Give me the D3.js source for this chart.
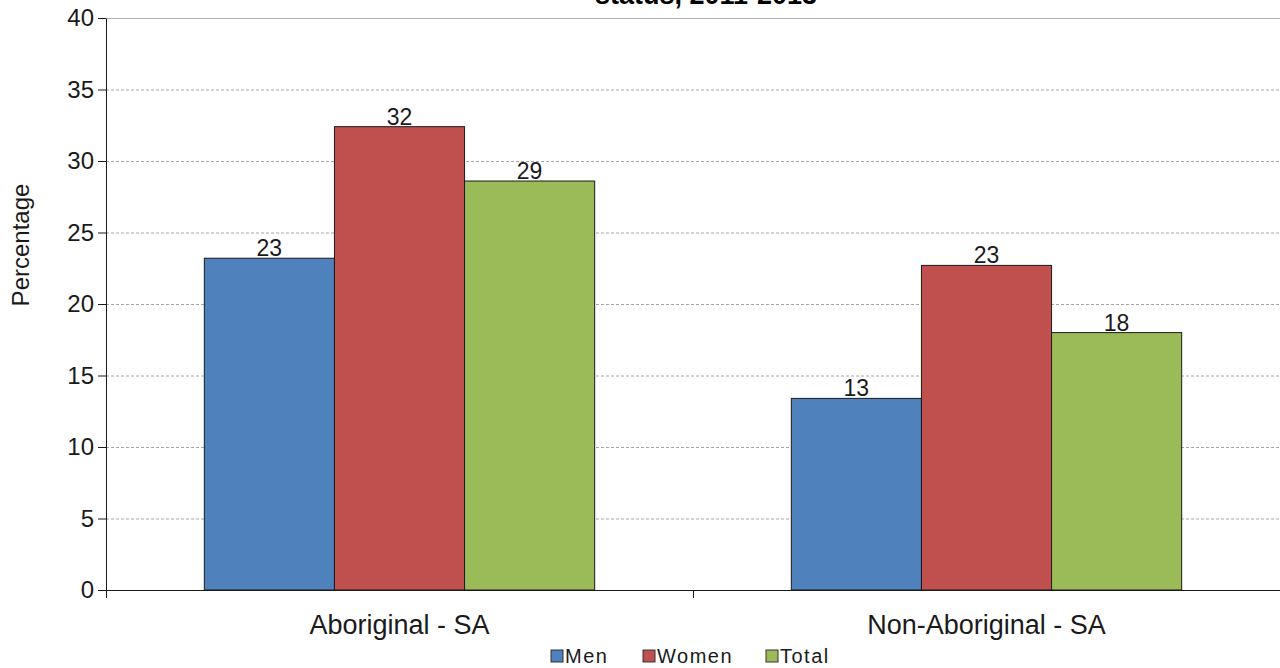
<!DOCTYPE html>
<html>
<head>
<meta charset="utf-8">
<script src="https://cdn.jsdelivr.net/npm/d3@7"></script>
<style>
  html, body { margin: 0; padding: 0; background: #ffffff; }
  svg { display: block; font-family: "Liberation Sans", Arial, sans-serif; }
</style>
</head>
<body>
<svg id="chart" width="1280" height="668"></svg>
<script>
// Percentage by group and sex
const categories = ["Aboriginal - SA", "Non-Aboriginal - SA"];
const seriesNames = ["Men", "Women", "Total"];
const menValues = [23.2, 13.4];
const womenValues = [32.4, 22.7];
const totalValues = [28.6, 18.0];
const yTicks = [0, 5, 10, 15, 20, 25, 30, 35, 40];
const titleText = "status, 2011-2013";
const yLabel = "Percentage";

const colors = { Men: "#4f81bd", Women: "#c0504d", Total: "#9bbb59" };
const seriesValues = { Men: menValues, Women: womenValues, Total: totalValues };

const W = 1280, H = 668;
const margin = { top: 18, right: 0, bottom: 78, left: 106 };
const innerW = W - margin.left - margin.right;
const innerH = H - margin.top - margin.bottom;

const svg = d3.select("#chart");
const g = svg.append("g").attr("transform", `translate(${margin.left},${margin.top})`);

const x0 = d3.scaleBand().domain(categories).range([0, innerW]).paddingInner(0.335).paddingOuter(0.1675);
const x1 = d3.scaleBand().domain(seriesNames).range([0, x0.bandwidth()]).padding(0);
const y = d3.scaleLinear().domain([0, 40]).range([innerH, 0]);

// Title (the top of it sits above the drawing area)
svg.append("text")
  .attr("x", 706).attr("y", 4)
  .attr("text-anchor", "middle")
  .attr("font-weight", "bold")
  .attr("font-size", 27)
  .attr("fill", "#000")
  .text(titleText);

// Gridlines
g.selectAll("line.grid")
  .data(yTicks.filter(t => t > 0))
  .join("line")
  .attr("class", "grid")
  .attr("x1", 0).attr("x2", innerW)
  .attr("y1", d => y(d) + 0.5).attr("y2", d => y(d) + 0.5)
  .attr("stroke", d => d === 40 ? "#b0b0b0" : "#a6a6a6")
  .attr("stroke-width", 1)
  .attr("stroke-dasharray", d => d === 40 ? null : "3,2");

// Bars
const groups = g.selectAll("g.cat")
  .data(categories)
  .join("g")
  .attr("class", "cat")
  .attr("transform", d => `translate(${x0(d)},0)`);

groups.selectAll("rect")
  .data((c, i) => seriesNames.map(s => ({ s, v: seriesValues[s][i] })))
  .join("rect")
  .attr("x", d => x1(d.s))
  .attr("y", d => y(d.v))
  .attr("width", x1.bandwidth())
  .attr("height", d => innerH - y(d.v))
  .attr("fill", d => colors[d.s])
  .attr("stroke", "#1a1a1a")
  .attr("stroke-width", 1);

groups.selectAll("text.val")
  .data((c, i) => seriesNames.map(s => ({ s, v: seriesValues[s][i] })))
  .join("text")
  .attr("class", "val")
  .attr("x", d => x1(d.s) + x1.bandwidth() / 2)
  .attr("y", d => y(d.v) - 2)
  .attr("text-anchor", "middle")
  .attr("font-size", 23)
  .attr("fill", "#1a1a1a")
  .text(d => d3.format(".0f")(d.v));

// Y axis
const yAxis = d3.axisLeft(y).tickValues(yTicks).tickSize(8).tickPadding(4).tickSizeOuter(0);
const ya = g.append("g").call(yAxis);
ya.select(".domain").attr("stroke", "#1a1a1a");
ya.selectAll(".tick line").attr("stroke", "#1a1a1a");
ya.selectAll(".tick text").attr("font-size", 24).attr("fill", "#1a1a1a")
  .attr("font-family", "Liberation Sans, Arial, sans-serif");

// X axis with ticks at category boundaries
const xa = g.append("g").attr("transform", `translate(0,${innerH})`);
xa.append("line").attr("x1", -8).attr("x2", innerW).attr("y1", 0.5).attr("y2", 0.5).attr("stroke", "#1a1a1a");
const boundaries = [0, innerW / 2, innerW];
xa.selectAll("line.tick")
  .data(boundaries)
  .join("line")
  .attr("class", "tick")
  .attr("x1", d => d + 0.5).attr("x2", d => d + 0.5)
  .attr("y1", 0).attr("y2", 8)
  .attr("stroke", "#1a1a1a");
xa.selectAll("text.cat")
  .data(categories)
  .join("text")
  .attr("class", "cat")
  .attr("x", d => x0(d) + x0.bandwidth() / 2)
  .attr("y", 44)
  .attr("text-anchor", "middle")
  .attr("font-size", 27)
  .attr("fill", "#1a1a1a")
  .text(d => d);

// Y axis title
svg.append("text")
  .attr("transform", `translate(29,${margin.top + 227}) rotate(-90)`)
  .attr("text-anchor", "middle")
  .attr("font-size", 24)
  .attr("fill", "#1a1a1a")
  .text(yLabel);

// Legend
const legendX = [551, 643, 766];
const legend = svg.append("g").selectAll("g")
  .data(seriesNames)
  .join("g")
  .attr("transform", (d, i) => `translate(${legendX[i]},650)`);
legend.append("rect")
  .attr("width", 12).attr("height", 12)
  .attr("fill", d => colors[d])
  .attr("stroke", "#333").attr("stroke-width", 1);
legend.append("text")
  .attr("x", 14).attr("y", 13)
  .attr("font-size", 20)
  .attr("letter-spacing", 1.5)
  .attr("fill", "#1a1a1a")
  .text(d => d);
</script>
</body>
</html>
